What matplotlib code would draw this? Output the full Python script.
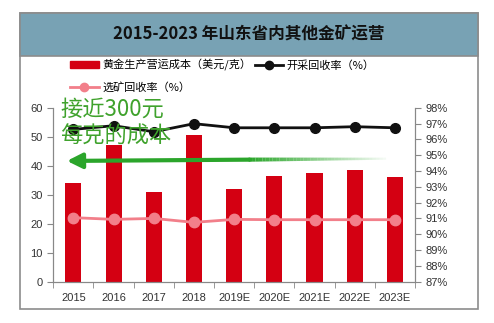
import numpy as np
import matplotlib.pyplot as plt
from matplotlib.patches import Rectangle
from matplotlib.lines import Line2D
from matplotlib.collections import LineCollection

plt.rcParams['font.family'] = ['Liberation Sans', 'Noto Sans CJK SC', 'DejaVu Sans']

years = ['2015', '2016', '2017', '2018', '2019E', '2020E', '2021E', '2022E', '2023E']
cost = [33.9, 47.2, 30.8, 50.7, 32.0, 36.3, 37.4, 38.4, 36.1]          # 美元/克
mining_rate = [96.63, 96.86, 96.48, 96.99, 96.73, 96.73, 96.73, 96.8, 96.73]   # %
dressing_rate = [91.05, 90.94, 91.0, 90.75, 90.94, 90.92, 90.92, 90.92, 90.92]  # %

W, H = 494, 323
fig = plt.figure(figsize=(W / 100, H / 100), dpi=100)

# outer frame and title band
fig.patches.append(Rectangle((20 / W, 1 - 309 / H), 458 / W, 296 / H, transform=fig.transFigure,
                             facecolor='white', edgecolor='#8c8c8c', linewidth=1.2, zorder=-2))
fig.patches.append(Rectangle((20 / W, 1 - 56 / H), 458 / W, 43 / H, transform=fig.transFigure,
                             facecolor='#78a2b4', edgecolor='#8c8c8c', linewidth=1.2, zorder=-1))
fig.text(249 / W, 1 - 35 / H, '2015-2023 年山东省内其他金矿运营', ha='center', va='center',
         fontsize=12, fontweight='bold', color='#111111', family=['Noto Sans CJK SC'])

ax = fig.add_axes([53.3 / W, 1 - 281.7 / H, 361.7 / W, 174 / H])
ax.patch.set_alpha(0)
x = np.arange(len(years))
ax.bar(x, cost, width=0.4, color='#d40012', zorder=2)
ax.set_xlim(-0.5, len(years) - 0.5)
ax.set_ylim(0, 60)
ax.set_yticks(range(0, 61, 10))
ax.set_xticks(x)
ax.set_xticklabels(years)
ax.set_xticks(np.arange(-0.5, len(years)), minor=True)
ax.tick_params(axis='x', which='major', length=0, labelsize=8, pad=8, labelcolor='#333333')
ax.tick_params(axis='x', which='minor', length=4, color='#888888')
ax.tick_params(axis='y', labelsize=8, length=4, color='#888888', labelcolor='#333333')

ax2 = ax.twinx()
ax2.plot(x, mining_rate, color='#111111', linewidth=2, marker='o', markersize=7, zorder=3)
ax2.plot(x, dressing_rate, color='#f27f8a', linewidth=2, marker='o', markersize=7.5, zorder=3)
ax2.set_ylim(87, 98)
ax2.set_yticks(range(87, 99))
ax2.set_yticklabels([f'{v}%' for v in range(87, 99)])
ax2.tick_params(axis='y', labelsize=8, length=4, color='#888888', labelcolor='#333333')

for a in (ax, ax2):
    a.spines['top'].set_visible(False)
    for s in ('left', 'right', 'bottom'):
        a.spines[s].set_color('#888888')

# legend
handles = [Rectangle((0, 0), 1, 1, color='#d40012'),
           Line2D([], [], color='#f27f8a', linewidth=2, marker='o', markersize=6),
           Line2D([], [], color='#111111', linewidth=2, marker='o', markersize=6)]
labels = ['黄金生产营运成本（美元/克）', '选矿回收率（%）', '开采回收率（%）']
fig.legend(handles, labels, loc='upper left', bbox_to_anchor=(60 / W, 1 - 49 / H), ncol=2,
           frameon=False, handlelength=2.6, handleheight=0.5, columnspacing=0.3,
           handletextpad=0.3, labelspacing=1.0, prop={'family': ['Noto Sans CJK SC'], 'size': 8})

# annotation
fig.text(60 / W, 1 - 98 / H, '接近300元\n每克的成本', ha='left', va='top', fontsize=16,
         color='#3fa22c', linespacing=1.2, family=['Noto Sans CJK SC'])
x0, y0, x1, y1 = 0.03, 0.694, 0.92, 0.707
ax.annotate('', xy=(x0, y0), xytext=(0.55, y0 + (y1 - y0) * 0.58), xycoords='axes fraction',
            arrowprops=dict(arrowstyle='-|>,head_length=0.9,head_width=0.45', color='#2ba52b', lw=3),
            zorder=5)
n = 40
xs = np.linspace(0.54, x1, n + 1)
ys = y0 + (y1 - y0) * (xs - x0) / (x1 - x0)
segs = [[(xs[i], ys[i]), (xs[i + 1], ys[i + 1])] for i in range(n)]
alphas = np.linspace(1, 0.05, n)
cols = [(0.17, 0.65, 0.17, a) for a in alphas]
ax.add_collection(LineCollection(segs, colors=cols, linewidths=np.linspace(3, 1.5, n),
                                 transform=ax.transAxes, zorder=5))

fig.savefig('out.png', dpi=100)
